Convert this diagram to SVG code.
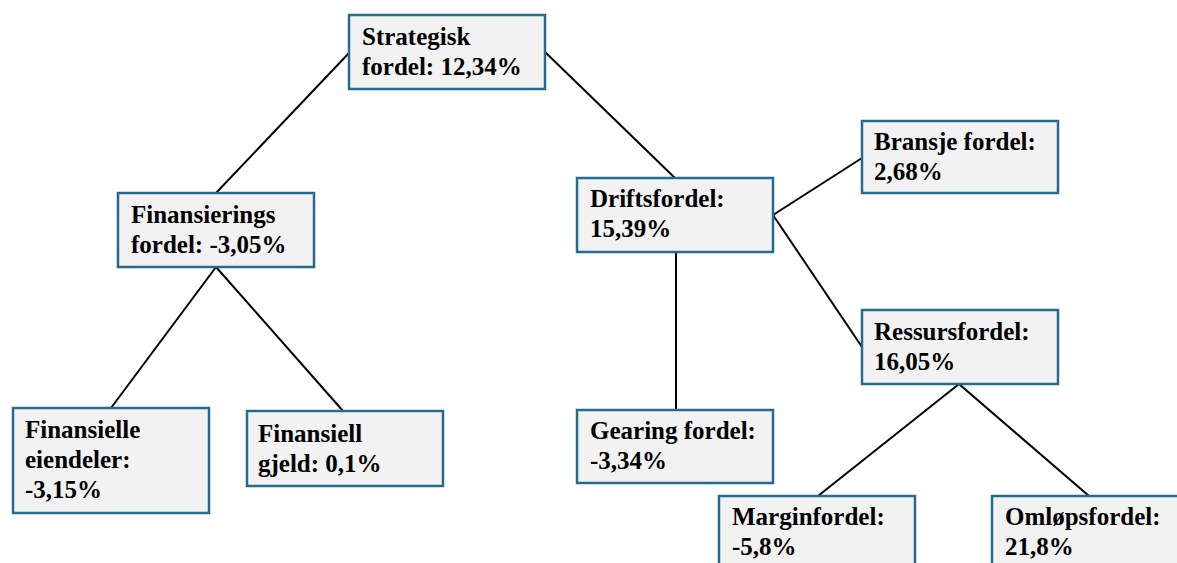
<svg xmlns="http://www.w3.org/2000/svg" width="1177" height="563" viewBox="0 0 1177 563">
<style>
.box{fill:#f2f2f2;stroke:#246b90;stroke-width:2.5}
.t{font-family:'Liberation Serif','Times New Roman','DejaVu Serif',serif;font-weight:700;font-size:25px;fill:#000}
.c{stroke:#000;stroke-width:2;fill:none}
</style>
<rect width="1177" height="563" fill="#fff"/>
<g id="connectors">
<line class="c" x1="349" y1="53" x2="216" y2="193"/>
<line class="c" x1="545" y1="52" x2="675" y2="178"/>
<line class="c" x1="216" y1="267" x2="111" y2="408"/>
<line class="c" x1="216" y1="267" x2="343" y2="411"/>
<line class="c" x1="773" y1="215" x2="862" y2="158"/>
<line class="c" x1="773" y1="215" x2="862" y2="347"/>
<line class="c" x1="676" y1="252" x2="676" y2="410"/>
<line class="c" x1="959" y1="384" x2="818" y2="496"/>
<line class="c" x1="959" y1="384" x2="1089" y2="496"/>
</g>
<g font-family="Liberation Serif, serif" font-weight="bold" font-size="25">
<g id="strategisk">
<rect class="box" x="349" y="15" width="196" height="74"/>
<text class="t" x="362" y="45">Strategisk</text>
<text class="t" x="362" y="75">fordel: 12,34%</text>
</g>
<g id="finansierings">
<rect class="box" x="118" y="193" width="196" height="74"/>
<text class="t" x="131" y="223">Finansierings</text>
<text class="t" x="131" y="253">fordel: -3,05%</text>
</g>
<g id="finansielle-eiendeler">
<rect class="box" x="13" y="408" width="196" height="105"/>
<text class="t" x="25" y="438">Finansielle</text>
<text class="t" x="25" y="468">eiendeler:</text>
<text class="t" x="25" y="498">-3,15%</text>
</g>
<g id="finansiell-gjeld">
<rect class="box" x="247" y="411" width="196" height="75"/>
<text class="t" x="258" y="442">Finansiell</text>
<text class="t" x="258" y="472">gjeld: 0,1%</text>
</g>
<g id="driftsfordel">
<rect class="box" x="577" y="178" width="196" height="74"/>
<text class="t" x="590" y="207">Driftsfordel:</text>
<text class="t" x="590" y="237">15,39%</text>
</g>
<g id="bransje">
<rect class="box" x="862" y="121" width="196" height="72"/>
<text class="t" x="874" y="150">Bransje fordel:</text>
<text class="t" x="874" y="180">2,68%</text>
</g>
<g id="ressurs">
<rect class="box" x="862" y="310" width="196" height="74"/>
<text class="t" x="874" y="340">Ressursfordel:</text>
<text class="t" x="874" y="370">16,05%</text>
</g>
<g id="gearing">
<rect class="box" x="577" y="410" width="196" height="73"/>
<text class="t" x="590" y="439">Gearing fordel:</text>
<text class="t" x="590" y="469">-3,34%</text>
</g>
<g id="margin">
<rect class="box" x="719" y="496" width="196" height="80"/>
<text class="t" x="732" y="525">Marginfordel:</text>
<text class="t" x="732" y="555">-5,8%</text>
</g>
<g id="omlops">
<rect class="box" x="992" y="496" width="196" height="80"/>
<text class="t" x="1005" y="525">Omløpsfordel:</text>
<text class="t" x="1005" y="555">21,8%</text>
</g>
</g>
</svg>
